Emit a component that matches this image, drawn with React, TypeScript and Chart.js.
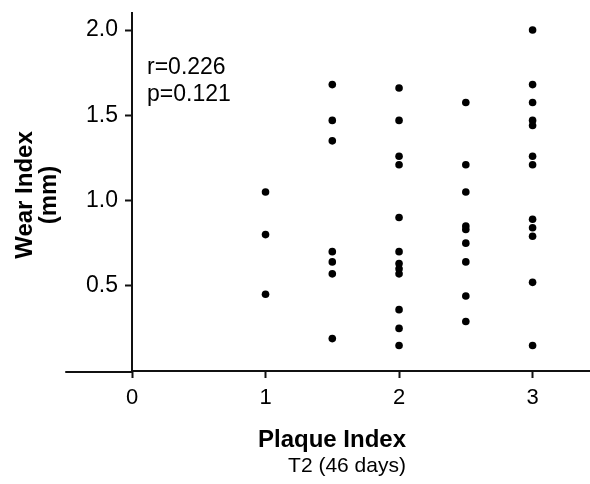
import React, { useEffect, useRef } from "react";
import { Chart, registerables } from "chart.js";

Chart.register(...registerables);

const FONT = '"Liberation Sans", Arial, Helvetica, sans-serif';

// Tick labels
const xTicks = [0, 1, 2, 3];
const yTicks = [0.5, 1.0, 1.5, 2.0];
const xAxisStart = -0.5; // where the x axis line begins (left of the y axis)

// Plaque index levels (x categories)
const plaqueLevels = [1, 1.5, 2, 2.5, 3];

// Wear index values (mm) per plaque level
const wearAt1 = [1.05, 0.8, 0.45];
const wearAt1_5 = [1.68, 1.47, 1.35, 0.7, 0.64, 0.57, 0.19];
const wearAt2 = [1.66, 1.47, 1.26, 1.21, 0.9, 0.7, 0.63, 0.6, 0.57, 0.36, 0.25, 0.15];
const wearAt2_5 = [1.575, 1.21, 1.05, 0.85, 0.83, 0.75, 0.64, 0.44, 0.29];
const wearAt3 = [2.0, 1.68, 1.575, 1.47, 1.44, 1.26, 1.21, 0.89, 0.84, 0.79, 0.52, 0.15];

// Texts
const statsLines = ["r=0.226", "p=0.121"];
const xTitle = "Plaque Index";
const xSubtitle = "T2 (46 days)";
const yTitleLines = ["Wear Index", "(mm)"];

export default function App() {
  const canvasRef = useRef<HTMLCanvasElement | null>(null);

  useEffect(() => {
    document.body.style.margin = "0";
    const canvas = canvasRef.current;
    if (!canvas) return;

    const groups = [wearAt1, wearAt1_5, wearAt2, wearAt2_5, wearAt3];
    const points = groups.flatMap((g, i) => g.map((v) => ({ x: plaqueLevels[i], y: v })));

    const textPlugin = {
      id: "textPlugin",
      afterDraw(chart: any) {
        const { ctx, chartArea, scales } = chart;
        ctx.save();
        // extend x axis line to the left of the y axis
        ctx.strokeStyle = "#111";
        ctx.lineWidth = 2;
        ctx.beginPath();
        const yLine = chartArea.bottom + 1;
        ctx.moveTo(scales.x.getPixelForValue(xAxisStart), yLine);
        ctx.lineTo(chartArea.left, yLine);
        ctx.stroke();

        ctx.fillStyle = "#000";
        ctx.textBaseline = "middle";
        // stats
        ctx.font = `23px ${FONT}`;
        ctx.textAlign = "left";
        const sx = scales.x.getPixelForValue(0) + 15;
        statsLines.forEach((t, i) => ctx.fillText(t, sx, chartArea.top + 55 + i * 27));
        // x titles
        ctx.textAlign = "center";
        ctx.font = `bold 24px ${FONT}`;
        ctx.fillText(xTitle, 332, 440);
        ctx.font = `21px ${FONT}`;
        ctx.fillText(xSubtitle, 347, 466);
        // y title
        ctx.translate(0, (chartArea.top + chartArea.bottom) / 2 + 3);
        ctx.rotate(-Math.PI / 2);
        ctx.font = `bold 24px ${FONT}`;
        ctx.fillText(yTitleLines[0], 0, 25);
        ctx.fillText(yTitleLines[1], 0, 49);
        ctx.restore();
      },
    };

    const chart = new Chart(canvas, {
      type: "scatter",
      data: {
        datasets: [
          {
            data: points,
            pointRadius: 3.8,
            pointHoverRadius: 3.8,
            pointBackgroundColor: "#000",
            pointBorderWidth: 0,
            borderColor: "#000",
          },
        ],
      },
      options: {
        animation: false,
        responsive: false,
        events: [],
        layout: { autoPadding: false, padding: { left: 0, right: 0, top: 13, bottom: 0 } },
        plugins: {
          legend: { display: false },
          tooltip: { enabled: false },
        },
        scales: {
          x: {
            type: "linear",
            min: 0,
            max: 3.43,
            afterBuildTicks: (s: any) => {
              s.ticks = xTicks.map((v) => ({ value: v }));
            },
            afterFit: (s: any) => {
              s.height = 113;
              s.paddingRight = 0;
              s.paddingLeft = 0;
            },
            grid: {
              drawOnChartArea: false,
              drawTicks: true,
              tickLength: 7,
              tickWidth: 2,
              tickColor: "#111",
            },
            border: { display: true, color: "#111", width: 2 },
            ticks: {
              font: { family: FONT, size: 22 },
              color: "#000",
              padding: 7,
              callback: (v: any) => String(v),
            },
          },
          y: {
            type: "linear",
            position: "left",
            min: 0,
            max: 2.1,
            afterBuildTicks: (s: any) => {
              s.ticks = yTicks.map((v) => ({ value: v }));
            },
            afterFit: (s: any) => {
              s.width = 132;
              s.paddingTop = 0;
              s.paddingBottom = 0;
            },
            grid: {
              drawOnChartArea: false,
              drawTicks: true,
              tickLength: 7,
              tickWidth: 2,
              tickColor: "#111",
            },
            border: { display: true, color: "#111", width: 2 },
            ticks: {
              font: { family: FONT, size: 23 },
              color: "#000",
              padding: 7,
              callback: (v: any) => Number(v).toFixed(1),
            },
          },
        },
      },
      plugins: [textPlugin],
    });

    return () => chart.destroy();
  }, []);

  return (
    <div style={{ position: "absolute", left: 0, top: 0, width: 590, height: 484, background: "#fff" }}>
      <canvas ref={canvasRef} width={590} height={484} style={{ width: 590, height: 484, display: "block" }} />
    </div>
  );
}
